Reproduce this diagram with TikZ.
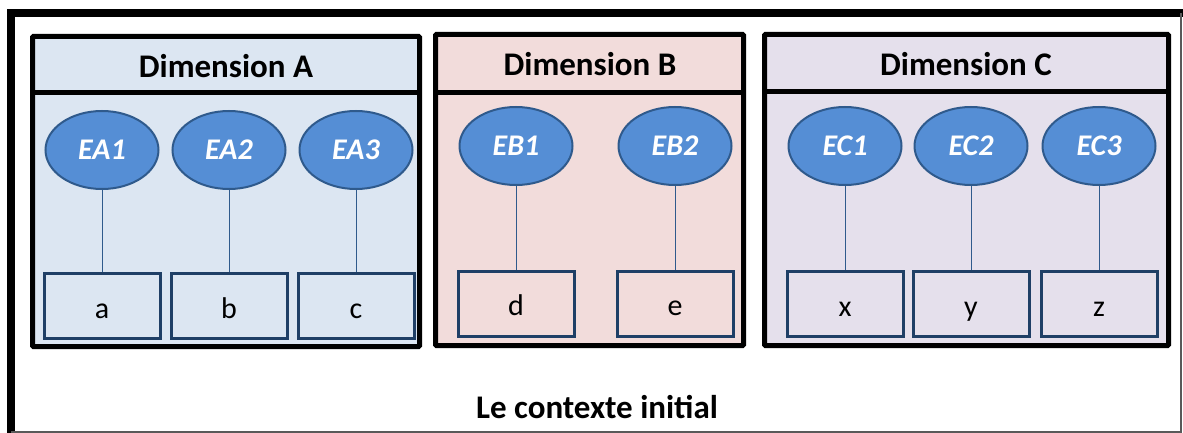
\documentclass[tikz,border=0pt]{standalone}
\usepackage{fontspec}
\setmainfont{Carlito}
\usetikzlibrary{shapes.geometric}
\definecolor{fillA}{HTML}{DCE6F2}
\definecolor{fillB}{HTML}{F2DCDB}
\definecolor{fillC}{HTML}{E5E0EC}
\definecolor{entfill}{HTML}{558ED5}
\definecolor{entline}{HTML}{2F5A8C}
\definecolor{valline}{HTML}{1F3F66}
\begin{document}
\begin{tikzpicture}[x=1pt, y=-1pt,
  dimbox/.style={draw=black, line width=5pt, rounded corners=1pt},
  dimtitle/.style={font=\fontsize{33}{38}\selectfont\bfseries},
  entity/.style={ellipse, draw=entline, line width=2pt, fill=entfill,
    minimum width=113pt, minimum height=78pt, inner sep=0pt,
    text=white, font=\fontsize{30}{34}\selectfont\bfseries\itshape},
  valbox/.style={rectangle, draw=valline, line width=3pt,
    minimum width=116pt, minimum height=65pt, inner sep=0pt,
    text height=28pt, text depth=4pt,
    font=\fontsize{30}{34}\selectfont},
  link/.style={draw=entline, line width=1pt}]
\useasboundingbox (0,0) rectangle (1183,433);
%%%% Outer frame:
\draw[line width=8pt] (11,433) -- (11,13) -- (1183,13);
\draw[gray!70!black, line width=1.5pt] (1181,13) -- (1181,432) -- (11,432);
%%%% Dimension boxes
\draw[dimbox, fill=fillA] (32.5,36.5) rectangle (419.5,346.5);
\draw[dimbox, fill=fillB] (435.5,34.5) rectangle (743.5,345.5);
\draw[dimbox, fill=fillC] (764.5,34.5) rectangle (1168.5,345.5);
\draw[line width=5pt] (32.5,93) -- (419.5,93);
\draw[line width=5pt] (435.5,93) -- (743.5,93);
\draw[line width=5pt] (764.5,92) -- (1168.5,92);
\node[dimtitle] (titleA) at (226,66) {Dimension A};
\node[dimtitle] (titleB) at (590,64) {Dimension B};
\node[dimtitle] (titleC) at (966,64) {Dimension C};
%%%% Entities
\node[entity] (ea1) at (102,150) {EA1};
\node[entity] (ea2) at (229,150) {EA2};
\node[entity] (ea3) at (356,150) {EA3};
\node[entity] (eb1) at (516,146) {EB1};
\node[entity] (eb2) at (675,146) {EB2};
\node[entity] (ec1) at (845,146) {EC1};
\node[entity] (ec2) at (971,146) {EC2};
\node[entity] (ec3) at (1099,146) {EC3};
%%%% Values
\node[valbox] (a) at (102,306) {a};
\node[valbox] (b) at (229,306) {b};
\node[valbox] (c) at (356,306) {c};
\node[valbox] (d) at (516,303.5) {d};
\node[valbox] (e) at (675,303.5) {e};
\node[valbox] (x) at (845,304) {x};
\node[valbox] (y) at (971,304) {y};
\node[valbox] (z) at (1099,304) {z};
%%%% Links
\draw[link] (ea1) -- (a);
\draw[link] (ea2) -- (b);
\draw[link] (ea3) -- (c);
\draw[link] (eb1) -- (d);
\draw[link] (eb2) -- (e);
\draw[link] (ec1) -- (x);
\draw[link] (ec2) -- (y);
\draw[link] (ec3) -- (z);
%%%% Caption
\node[dimtitle] (context) at (597,407) {Le contexte initial};
\end{tikzpicture}
\end{document}
